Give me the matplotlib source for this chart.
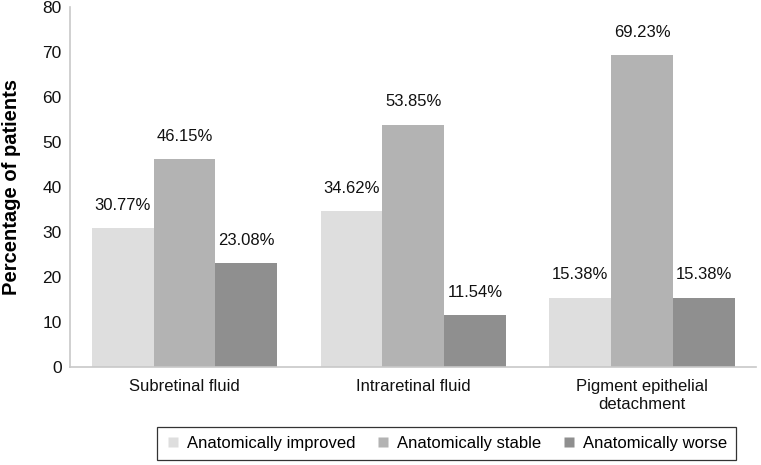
import numpy as np
import matplotlib
matplotlib.use("Agg")
import matplotlib.pyplot as plt
from matplotlib.lines import Line2D

plt.rcParams['font.family'] = ['Liberation Sans', 'DejaVu Sans']

categories = ["Subretinal fluid", "Intraretinal fluid", "Pigment epithelial\ndetachment"]
series_names = ["Anatomically improved", "Anatomically stable", "Anatomically worse"]
improved = [30.77, 34.62, 15.38]
stable = [46.15, 53.85, 69.23]
worse = [23.08, 11.54, 15.38]
colors = ["#dedede", "#b3b3b3", "#8f8f8f"]
yticks = [0, 10, 20, 30, 40, 50, 60, 70, 80]

fig = plt.figure(figsize=(7.61, 4.65), dpi=100)
ax = fig.add_axes([0.092, 0.211, 0.902, 0.774])

x = np.arange(len(categories))
w = 0.27
handles = []
for i, (vals, c, name) in enumerate(zip([improved, stable, worse], colors, series_names)):
    pos = x + (i - 1) * w
    ax.bar(pos, vals, width=w, color=c, edgecolor='none')
    for xp, v in zip(pos, vals):
        ax.text(xp, v + 3.4, f"{v:.2f}%", ha='center', va='bottom', fontsize=12, color='#111111')
    handles.append(Line2D([], [], marker='s', linestyle='none', markersize=7,
                          markerfacecolor=c, markeredgecolor='none', label=name))

ax.set_xlim(-0.5, 2.5)
ax.set_ylim(0, 80)
ax.set_yticks(yticks)
ax.set_xticks(x)
ax.set_xticklabels(categories, fontsize=12)
ax.tick_params(axis='both', length=0, labelsize=12.5, colors='#111111')
ax.tick_params(axis='x', labelsize=12, pad=9)
ax.tick_params(axis='y', pad=6)

for s in ['top', 'right']:
    ax.spines[s].set_visible(False)
for s in ['left', 'bottom']:
    ax.spines[s].set_color('#c8c8c8')
    ax.spines[s].set_linewidth(1.2)

ax.set_ylabel("Percentage of patients", fontsize=14.5, fontweight='bold')
ax.yaxis.set_label_coords(-0.072, 0.5)

leg = fig.legend(handles=handles, loc='center', bbox_to_anchor=(0.587, 0.046),
                 ncol=3, fontsize=12, frameon=True, fancybox=False,
                 handlelength=0.8, handletextpad=0.4, columnspacing=1.3,
                 borderpad=0.55)
leg.get_frame().set_edgecolor('black')
leg.get_frame().set_linewidth(0.9)

fig.savefig("out.png", dpi=100)
